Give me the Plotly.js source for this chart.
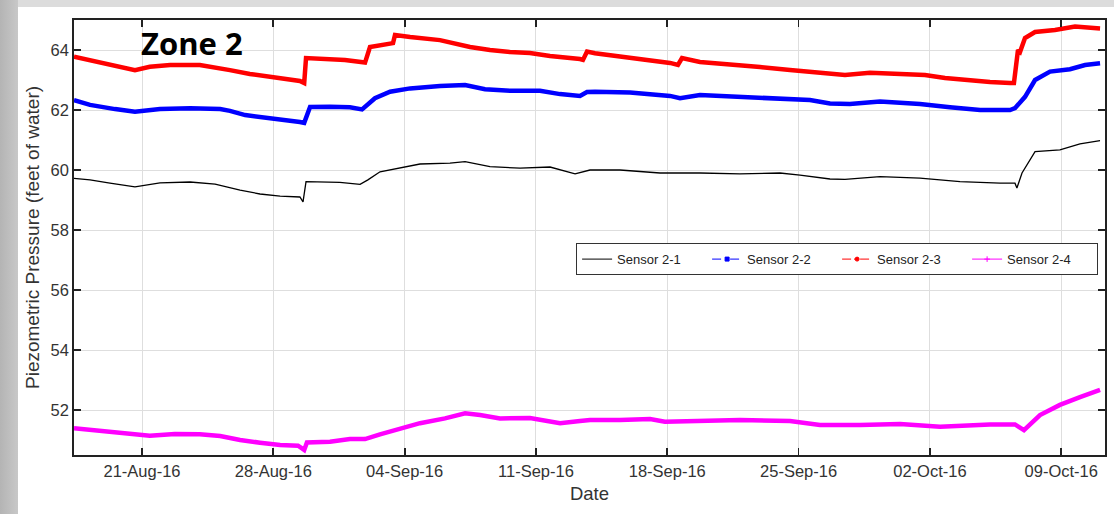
<!DOCTYPE html>
<html>
<head>
<meta charset="utf-8">
<script src="https://cdn.plot.ly/plotly-3.0.1.min.js"></script>
<style>
  html, body { margin: 0; padding: 0; width: 1114px; height: 514px; overflow: hidden; }
  body { background: #dcdcdc; position: relative; }
  #side { position: absolute; left: 0; top: 0; width: 18px; height: 514px;
          background: linear-gradient(to right, #b4b4b4, #c8c8c8); }
  #chart { position: absolute; left: 18px; top: 7px; width: 1096px; height: 507px; background: #fff; }
</style>
</head>
<body>
<div id="side"></div>
<div id="chart"></div>
<script>
// ---- Data ----
const sensor21Dates = ["2016-08-17 09:00","2016-08-18 05:30","2016-08-19 07:00","2016-08-20 15:00","2016-08-21 23:00","2016-08-23 13:30","2016-08-24 21:30","2016-08-26 05:30","2016-08-27 07:00","2016-08-28 08:40","2016-08-29 10:00","2016-08-29 14:00","2016-08-29 17:50","2016-08-30 11:40","2016-08-31 13:10","2016-09-01 15:00","2016-09-02 01:00","2016-09-02 16:30","2016-09-03 18:00","2016-09-04 19:40","2016-09-06 10:00","2016-09-07 05:20","2016-09-08 13:10","2016-09-10 03:40","2016-09-11 18:00","2016-09-13 02:00","2016-09-13 21:10","2016-09-15 11:30","2016-09-17 14:40","2016-09-19 17:50","2016-09-21 21:00","2016-09-24 00:10","2016-09-25 01:50","2016-09-26 16:10","2016-09-27 11:20","2016-09-29 08:10","2016-10-01 11:20","2016-10-03 14:30","2016-10-05 17:40","2016-10-06 12:50","2016-10-06 15:20","2016-10-06 21:50","2016-10-07 14:30","2016-10-08 22:20","2016-10-10 00:00","2016-10-11 01:40"];
const sensor21Values = [59.72,59.67,59.56,59.44,59.57,59.60,59.53,59.33,59.20,59.13,59.10,58.94,59.61,59.60,59.59,59.52,59.67,59.94,60.06,60.20,60.23,60.28,60.11,60.06,60.10,59.87,60.00,60.00,59.90,59.90,59.87,59.90,59.83,59.70,59.69,59.78,59.73,59.61,59.56,59.56,59.40,59.90,60.61,60.67,60.87,60.98];

const sensor22Dates = ["2016-08-17 09:00","2016-08-18 05:30","2016-08-19 13:30","2016-08-20 15:00","2016-08-21 23:00","2016-08-23 13:30","2016-08-25 04:00","2016-08-25 16:30","2016-08-26 12:00","2016-08-27 07:00","2016-08-28 08:40","2016-08-28 21:20","2016-08-29 10:00","2016-08-29 15:30","2016-08-29 23:00","2016-08-31 00:30","2016-09-01 02:00","2016-09-01 17:30","2016-09-02 10:00","2016-09-03 05:20","2016-09-04 07:00","2016-09-05 21:10","2016-09-07 05:20","2016-09-08 06:50","2016-09-09 14:50","2016-09-11 05:10","2016-09-12 06:50","2016-09-13 08:20","2016-09-13 17:20","2016-09-14 03:30","2016-09-16 00:20","2016-09-18 03:30","2016-09-18 16:20","2016-09-19 17:50","2016-09-21 21:00","2016-09-24 00:10","2016-09-25 14:30","2016-09-26 16:10","2016-09-27 17:40","2016-09-29 08:10","2016-10-01 11:20","2016-10-03 01:40","2016-10-04 16:10","2016-10-06 06:30","2016-10-06 12:50","2016-10-07 01:40","2016-10-07 14:30","2016-10-08 09:40","2016-10-09 11:10","2016-10-10 06:30","2016-10-11 01:40"];
const sensor22Values = [62.33,62.17,62.03,61.94,62.03,62.06,62.03,61.97,61.83,61.77,61.70,61.67,61.60,61.57,62.10,62.11,62.09,62.02,62.39,62.61,62.72,62.80,62.83,62.69,62.64,62.64,62.53,62.47,62.60,62.61,62.58,62.47,62.39,62.50,62.43,62.39,62.33,62.22,62.20,62.28,62.20,62.09,62.00,62.00,62.06,62.44,63.00,63.28,63.36,63.50,63.56];

const sensor23Dates = ["2016-08-17 09:00","2016-08-18 18:00","2016-08-20 15:00","2016-08-21 10:00","2016-08-22 12:00","2016-08-24 02:00","2016-08-24 21:30","2016-08-25 16:30","2016-08-26 18:00","2016-08-27 19:40","2016-08-28 21:20","2016-08-29 10:00","2016-08-29 15:30","2016-08-29 17:50","2016-08-31 19:40","2016-09-01 15:00","2016-09-01 21:20","2016-09-02 03:40","2016-09-02 23:00","2016-09-03 09:10","2016-09-03 11:40","2016-09-04 07:00","2016-09-05 21:10","2016-09-07 11:40","2016-09-08 13:10","2016-09-09 14:50","2016-09-10 16:20","2016-09-11 18:00","2016-09-13 08:20","2016-09-13 12:10","2016-09-13 17:20","2016-09-14 03:30","2016-09-15 11:30","2016-09-17 02:00","2016-09-18 03:30","2016-09-18 13:40","2016-09-18 18:50","2016-09-19 17:50","2016-09-21 08:10","2016-09-22 22:40","2016-09-24 13:00","2016-09-26 03:20","2016-09-27 11:20","2016-09-28 19:20","2016-09-30 09:50","2016-10-01 17:40","2016-10-02 19:20","2016-10-03 20:50","2016-10-05 04:50","2016-10-06 06:30","2016-10-06 11:30","2016-10-06 16:40","2016-10-06 19:20","2016-10-07 01:40","2016-10-07 14:30","2016-10-08 16:00","2016-10-09 17:40","2016-10-11 01:40"];
const sensor23Values = [63.78,63.60,63.33,63.44,63.50,63.50,63.43,63.33,63.20,63.10,63.00,62.97,62.90,63.73,63.67,63.63,63.58,64.10,64.20,64.23,64.50,64.43,64.33,64.10,64.00,63.93,63.90,63.80,63.70,63.67,63.95,63.89,63.78,63.67,63.57,63.50,63.73,63.60,63.53,63.43,63.33,63.23,63.17,63.24,63.20,63.17,63.07,63.00,62.93,62.90,62.90,64.00,63.94,64.40,64.60,64.67,64.78,64.72];

const sensor24Dates = ["2016-08-17 09:00","2016-08-18 18:00","2016-08-20 08:40","2016-08-21 10:00","2016-08-22 18:00","2016-08-24 02:00","2016-08-25 04:00","2016-08-26 05:30","2016-08-27 07:00","2016-08-28 08:40","2016-08-29 07:40","2016-08-29 15:30","2016-08-29 19:00","2016-08-31 00:30","2016-09-01 02:00","2016-09-01 21:20","2016-09-02 16:30","2016-09-03 18:00","2016-09-04 19:40","2016-09-06 03:40","2016-09-07 05:20","2016-09-08 00:30","2016-09-09 02:00","2016-09-10 16:20","2016-09-12 06:50","2016-09-13 08:20","2016-09-13 21:10","2016-09-15 11:30","2016-09-17 02:00","2016-09-17 21:00","2016-09-19 17:50","2016-09-21 21:00","2016-09-24 13:00","2016-09-26 03:20","2016-09-28 06:30","2016-09-30 09:50","2016-10-02 13:00","2016-10-05 04:50","2016-10-06 12:50","2016-10-07 00:20","2016-10-07 20:50","2016-10-08 22:20","2016-10-10 00:00","2016-10-11 01:40"];
const sensor24Values = [51.39,51.30,51.19,51.14,51.20,51.19,51.13,51.00,50.91,50.83,50.81,50.67,50.92,50.94,51.03,51.03,51.19,51.39,51.56,51.72,51.89,51.83,51.72,51.73,51.56,51.63,51.67,51.67,51.70,51.61,51.63,51.67,51.63,51.50,51.50,51.53,51.44,51.52,51.52,51.33,51.83,52.17,52.43,52.67];

const seriesNames = ["Sensor 2-1","Sensor 2-2","Sensor 2-3","Sensor 2-4"];
const seriesColors = ["#000000","#0000ff","#ff0000","#ff00ff"];
const tickDates = ["2016-08-21","2016-08-28","2016-09-04","2016-09-11","2016-09-18","2016-09-25","2016-10-02","2016-10-09"];
const tickLabels = ["21-Aug-16","28-Aug-16","04-Sep-16","11-Sep-16","18-Sep-16","25-Sep-16","02-Oct-16","09-Oct-16"];
const yTicks = [52,54,56,58,60,62,64];

const xs = [sensor21Dates, sensor22Dates, sensor23Dates, sensor24Dates];
const ys = [sensor21Values, sensor22Values, sensor23Values, sensor24Values];
const widths = [1.3, 4.5, 4.5, 4.5];
const legDash = ["solid","dash","dashdot","solid"];
const legSym = ["line-ew","square","circle","cross-thin"];

const traces = [];
for (let i = 0; i < 4; i++) {
  traces.push({
    x: xs[i], y: ys[i], type: "scatter", mode: "lines",
    line: {color: seriesColors[i], width: widths[i]},
    showlegend: false, hoverinfo: "skip"
  });
}
for (let i = 0; i < 4; i++) {
  traces.push({
    x: [null], y: [null], type: "scatter",
    mode: i === 0 ? "lines" : "lines+markers",
    name: seriesNames[i],
    line: {color: seriesColors[i], width: 1, dash: legDash[i]},
    marker: {color: seriesColors[i], size: 4, symbol: legSym[i], line: {color: seriesColors[i], width: 1}}
  });
}

const font = "'Liberation Sans', Arial, sans-serif";
const layout = {
  width: 1096, height: 507,
  margin: {l: 56, r: 9, t: 13, b: 59, autoexpand: false},
  paper_bgcolor: "#ffffff", plot_bgcolor: "#ffffff",
  font: {family: font, size: 14, color: "#333333"},
  showlegend: true,
  legend: {
    x: 0.487, y: 0.487, xanchor: "left", yanchor: "top",
    orientation: "h", bgcolor: "#ffffff", bordercolor: "#333333", borderwidth: 1,
    font: {family: font, size: 13, color: "#222222"},
    entrywidth: 85, entrywidthmode: "pixels", tracegroupgap: 0
  },
  xaxis: {
    type: "date",
    range: ["2016-08-17 09:00", "2016-10-11 08:00"],
    tickmode: "array", tickvals: tickDates, ticktext: tickLabels,
    ticks: "inside", ticklen: 7, tickwidth: 1.8, tickcolor: "#222",
    showline: true, linecolor: "#222", linewidth: 1.8, mirror: "ticks",
    showgrid: true, gridcolor: "#dedede", gridwidth: 1,
    zeroline: false,
    tickfont: {family: font, size: 16.5, color: "#333"},
    title: {text: "Date", font: {family: font, size: 18.5, color: "#333"}, standoff: 8}
  },
  yaxis: {
    range: [50.5, 65],
    tickmode: "array", tickvals: yTicks,
    ticks: "inside", ticklen: 7, tickwidth: 1.8, tickcolor: "#222",
    showline: true, linecolor: "#222", linewidth: 1.8, mirror: "ticks",
    showgrid: true, gridcolor: "#dedede", gridwidth: 1,
    zeroline: false,
    tickfont: {family: font, size: 16.5, color: "#333"},
    title: {text: "Piezometric Pressure (feet of water)", font: {family: font, size: 19, color: "#333"}, standoff: 6}
  },
  annotations: [{
    text: "<b>Zone 2</b>", xref: "paper", yref: "paper",
    x: 0.114, y: 1.0, xanchor: "center", yanchor: "top", showarrow: false,
    font: {family: "'Open Sans', 'Liberation Sans', sans-serif", size: 31, color: "#000"}
  }]
};

Plotly.newPlot("chart", traces, layout, {displayModeBar: false, staticPlot: true});
</script>
</body>
</html>
